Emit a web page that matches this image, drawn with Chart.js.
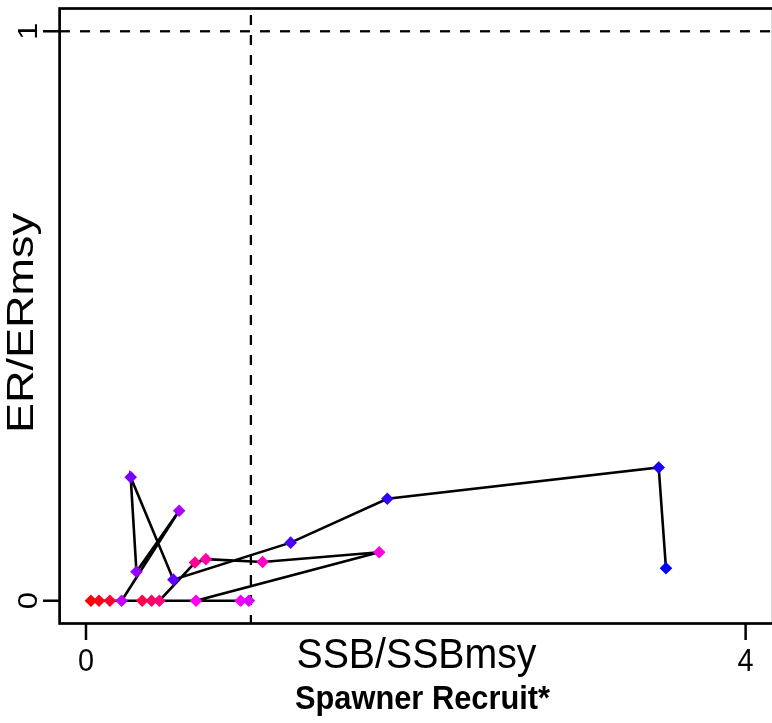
<!DOCTYPE html>
<html lang="en">
<head>
    <meta charset="UTF-8">
    <title>Spawner Recruit</title>
    <script src="https://cdn.jsdelivr.net/npm/chart.js"></script>
    <style>
        body { margin: 0; background: #fff; }
    </style>
</head>
<body>
    <canvas id="kobe" width="772" height="723"></canvas>

    <script>
        // values, in the order the path is drawn
        var ssbRatio = [0.030, 0.079, 0.145, 0.341, 0.398, 0.445, 0.661, 0.727, 1.071, 1.778, 0.667,
                        0.938, 0.988, 0.216, 0.565, 0.306, 0.271, 0.530, 1.241, 1.827, 3.473, 3.517]
        var erRatio  = [0, 0, 0, 0, 0, 0, 0.067, 0.073, 0.068, 0.085, 0,
                        0, 0, 0, 0.158, 0.051, 0.217, 0.037, 0.102, 0.179, 0.234, 0.057]
        var pointColors = ['#FF0000', '#FF0018', '#FF0031', '#FF0049', '#FF0061', '#FF0079', '#FF0092',
                           '#FF00AA', '#FF00C2', '#FF00DB', '#FF00F3', '#F300FF', '#DB00FF', '#C200FF',
                           '#AA00FF', '#9200FF', '#7900FF', '#6100FF', '#4900FF', '#3100FF', '#1800FF', '#0000FF']
        var xTicks = [0, 4]
        var yTicks = [0, 1]
        var refX = 1
        var refY = 1

        var FONT = '"Liberation Sans", Arial, sans-serif'

        // text with a stretch along its own direction (the picture is a bit squashed)
        function label(ctx, s, x, y, px, bold, rot, len, sx) {
            ctx.save()
            ctx.translate(x, y)
            ctx.rotate(rot)
            ctx.font = (bold ? 'bold ' : '') + px + 'px ' + FONT
            var w = ctx.measureText(s).width
            ctx.scale(len ? len / w : sx, 1)
            ctx.textAlign = 'center'
            ctx.textBaseline = 'alphabetic'
            ctx.fillStyle = '#000'
            ctx.fillText(s, 0, 0)
            ctx.restore()
        }

        var frame = {
            id: 'frame',
            beforeDatasetsDraw: function (chart) {
                var ctx = chart.ctx, a = chart.chartArea
                var xs = chart.scales.x, ys = chart.scales.y
                ctx.save()
                ctx.beginPath()
                ctx.rect(a.left, a.top, a.right - a.left, a.bottom - a.top)
                ctx.clip()
                ctx.strokeStyle = '#000'
                ctx.lineWidth = 2.3
                ctx.setLineDash([10, 10])
                var px = xs.getPixelForValue(refX)
                ctx.beginPath()
                ctx.moveTo(px, -5)
                ctx.lineTo(px, a.bottom)
                ctx.stroke()
                var py = ys.getPixelForValue(refY)
                ctx.beginPath()
                ctx.moveTo(0, py)
                ctx.lineTo(a.right, py)
                ctx.stroke()
                ctx.restore()
            },
            afterDraw: function (chart) {
                var ctx = chart.ctx, a = chart.chartArea
                var xs = chart.scales.x, ys = chart.scales.y
                ctx.save()
                ctx.strokeStyle = '#000'
                ctx.lineWidth = 2.7
                // the right side of the box sits just past the canvas edge
                ctx.strokeRect(a.left, a.top, a.right + 1.2 - a.left, a.bottom - a.top)

                ctx.lineWidth = 2.5
                xTicks.forEach(function (v) {
                    var p = xs.getPixelForValue(v)
                    ctx.beginPath()
                    ctx.moveTo(p, a.bottom)
                    ctx.lineTo(p, a.bottom + 16.5)
                    ctx.stroke()
                    label(ctx, String(v), p, 671, 31, false, 0, 0, 0.93)
                })
                yTicks.forEach(function (v) {
                    var p = ys.getPixelForValue(v)
                    ctx.beginPath()
                    ctx.moveTo(a.left, p)
                    ctx.lineTo(a.left - 16.6, p)
                    ctx.stroke()
                    label(ctx, String(v), 37, p, 28, false, -Math.PI / 2, 0, 1.1)
                })
                ctx.restore()

                label(ctx, 'SSB/SSBmsy', 416.5, 668.3, 42, false, 0, 240)
                label(ctx, 'Spawner Recruit*', 422.5, 709, 33.5, true, 0, 255)
                label(ctx, 'ER/ERmsy', 33.3, 323, 37, false, -Math.PI / 2, 220)
            }
        }

        var points = ssbRatio.map(function (x, i) { return { x: x, y: erRatio[i] } })

        var myChart = new Chart(document.getElementById('kobe').getContext('2d'), {
            type: 'scatter',
            data: {
                datasets: [{
                    data: points,
                    showLine: true,
                    tension: 0,
                    borderColor: '#000',
                    borderWidth: 2.6,
                    pointStyle: 'rectRot',
                    pointRadius: 6.3,
                    pointHoverRadius: 6.3,
                    pointBorderWidth: 0,
                    pointBackgroundColor: pointColors,
                    clip: false
                }]
            },
            options: {
                responsive: false,
                animation: false,
                devicePixelRatio: 1,
                layout: { autoPadding: false, padding: { left: 59.6, top: 8.5, right: 0, bottom: 99.5 } },
                scales: {
                    x: { type: 'linear', min: -0.16, max: 4.16, display: false },
                    y: { type: 'linear', min: -0.04, max: 1.04, display: false }
                },
                plugins: { legend: { display: false }, tooltip: { enabled: false } },
                events: []
            },
            plugins: [frame]
        })
    </script>
</body>
</html>
